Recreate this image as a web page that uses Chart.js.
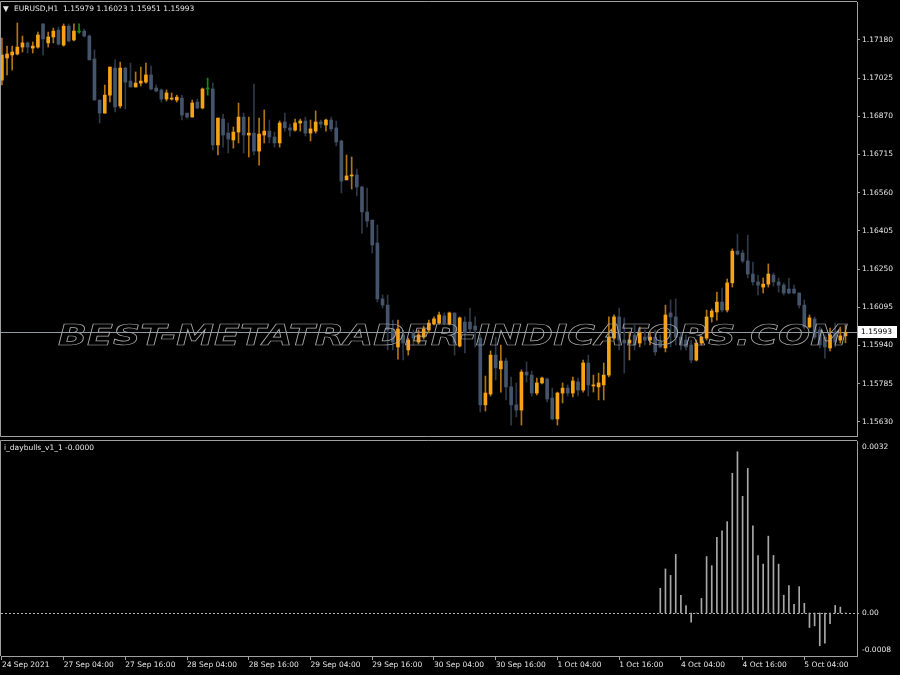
<!DOCTYPE html>
<html>
<head>
<meta charset="utf-8">
<title>EURUSD,H1</title>
<script src="https://cdn.jsdelivr.net/npm/chart.js@4.4.0/dist/chart.umd.min.js"></script>
<style>
    html, body { margin: 0; padding: 0; background: #000; }
    #wrap { position: relative; width: 900px; height: 675px; background: #000; overflow: hidden; }
    #priceChart { position: absolute; left: 0; top: 0; }
    #indChart { position: absolute; left: 0; top: 438px; }
</style>
</head>
<body>
<div id="wrap">
    <canvas id="priceChart" width="900" height="438"></canvas>
    <canvas id="indChart" width="900" height="237"></canvas>
</div>
<script>
var symbolTitle = 'EURUSD,H1';
var watermarkText = 'BEST-METATRADER-INDICATORS.COM';

// hourly bars, 24 Sep 16:00 .. 5 Oct 12:00
var opens = [
    1.17017, 1.17107, 1.17119, 1.17123, 1.17151, 1.17168, 1.17147, 1.17151, 1.17245, 1.17168,
    1.17192, 1.17220, 1.17159, 1.17236, 1.17180, 1.17212, 1.17216, 1.17196, 1.17103, 1.16936,
    1.16883, 1.16956, 1.17066, 1.16912, 1.17066, 1.17013, 1.16989, 1.17005, 1.17009, 1.17038,
    1.16985, 1.16977, 1.16940, 1.16940, 1.16936, 1.16944, 1.16883, 1.16867, 1.16928, 1.16904,
    1.16981, 1.16981, 1.16754, 1.16859, 1.16802, 1.16774, 1.16806, 1.16867, 1.16794, 1.16802,
    1.16729, 1.16794, 1.16810, 1.16786, 1.16762, 1.16847, 1.16823, 1.16814, 1.16843, 1.16851,
    1.16802, 1.16810, 1.16847, 1.16835, 1.16855, 1.16823, 1.16770, 1.16612, 1.16628, 1.16632,
    1.16583, 1.16482, 1.16449, 1.16356, 1.16129, 1.16104, 1.16007, 1.15934, 1.15983, 1.15922,
    1.15991, 1.15954, 1.15974, 1.16003, 1.16027, 1.16031, 1.16060, 1.16027, 1.16072, 1.15938,
    1.16035, 1.16035, 1.16019, 1.15970, 1.15699, 1.15743, 1.15901, 1.15845, 1.15877, 1.15772,
    1.15699, 1.15678, 1.15832, 1.15820, 1.15747, 1.15788, 1.15804, 1.15727, 1.15642, 1.15747,
    1.15767, 1.15747, 1.15792, 1.15759, 1.15869, 1.15776, 1.15772, 1.15780, 1.15820, 1.15970,
    1.16056, 1.15962, 1.15950, 1.15983, 1.15950, 1.15974, 1.15962, 1.15974, 1.15954, 1.15930,
    1.16072, 1.16056, 1.15974, 1.15962, 1.15942, 1.15881, 1.15950, 1.15970, 1.16056, 1.16076,
    1.16116, 1.16084, 1.16194, 1.16323, 1.16315, 1.16283, 1.16230, 1.16198, 1.16177, 1.16189,
    1.16226, 1.16198, 1.16185, 1.16169, 1.16169, 1.16153, 1.16104, 1.16015, 1.16048, 1.16003,
    1.15974, 1.15930, 1.15995, 1.15962, 1.15979
];
var highs = [
    1.17188, 1.17155, 1.17155, 1.17249, 1.17196, 1.17172, 1.17172, 1.17212, 1.17245, 1.17212,
    1.17228, 1.17232, 1.17245, 1.17245, 1.17245, 1.17245, 1.17224, 1.17200, 1.17139, 1.16936,
    1.16997, 1.17070, 1.17099, 1.17090, 1.17070, 1.17086, 1.17050, 1.17070, 1.17086, 1.17074,
    1.16997, 1.16981, 1.16977, 1.16965, 1.16956, 1.16956, 1.16883, 1.16936, 1.16940, 1.16985,
    1.17025, 1.17005, 1.16863, 1.16879, 1.16843, 1.16827, 1.16924, 1.16883, 1.16867, 1.17001,
    1.16863, 1.16896, 1.16855, 1.16806, 1.16851, 1.16883, 1.16839, 1.16859, 1.16859, 1.16867,
    1.16855, 1.16892, 1.16855, 1.16859, 1.16867, 1.16851, 1.16774, 1.16713, 1.16705, 1.16656,
    1.16587, 1.16579, 1.16449, 1.16429, 1.16145, 1.16145, 1.16043, 1.16043, 1.16003, 1.15970,
    1.16003, 1.16003, 1.16019, 1.16043, 1.16056, 1.16076, 1.16072, 1.16076, 1.16072, 1.16056,
    1.16056, 1.16092, 1.16056, 1.15983, 1.15816, 1.15918, 1.15974, 1.15942, 1.15889, 1.15812,
    1.15788, 1.15841, 1.15873, 1.15836, 1.15808, 1.15812, 1.15808, 1.15767, 1.15751, 1.15788,
    1.15780, 1.15812, 1.15808, 1.15881, 1.15901, 1.15820, 1.15828, 1.15869, 1.16056, 1.16064,
    1.16092, 1.16052, 1.15995, 1.16023, 1.16015, 1.16003, 1.15995, 1.16003, 1.15983, 1.16104,
    1.16125, 1.16129, 1.15991, 1.15983, 1.15962, 1.15962, 1.15979, 1.16084, 1.16088, 1.16157,
    1.16173, 1.16210, 1.16332, 1.16392, 1.16327, 1.16388, 1.16279, 1.16226, 1.16214, 1.16271,
    1.16234, 1.16214, 1.16194, 1.16214, 1.16185, 1.16153, 1.16125, 1.16064, 1.16056, 1.16015,
    1.15983, 1.16011, 1.16031, 1.16015, 1.16023
];
var lows = [
    1.16997, 1.17038, 1.17058, 1.17119, 1.17131, 1.17127, 1.17127, 1.17147, 1.17119, 1.17151,
    1.17168, 1.17159, 1.17155, 1.17172, 1.17176, 1.17208, 1.17192, 1.17099, 1.16936, 1.16843,
    1.16883, 1.16928, 1.16888, 1.16904, 1.16900, 1.16989, 1.16989, 1.16993, 1.17005, 1.16977,
    1.16969, 1.16928, 1.16932, 1.16936, 1.16928, 1.16855, 1.16863, 1.16867, 1.16900, 1.16900,
    1.16956, 1.16733, 1.16713, 1.16745, 1.16721, 1.16741, 1.16762, 1.16721, 1.16705, 1.16713,
    1.16672, 1.16762, 1.16762, 1.16745, 1.16745, 1.16810, 1.16790, 1.16810, 1.16810, 1.16790,
    1.16770, 1.16802, 1.16823, 1.16810, 1.16810, 1.16750, 1.16559, 1.16612, 1.16575, 1.16547,
    1.16396, 1.16421, 1.16315, 1.16116, 1.16092, 1.15922, 1.15922, 1.15885, 1.15881, 1.15901,
    1.15942, 1.15946, 1.15966, 1.15991, 1.16023, 1.16027, 1.16023, 1.16023, 1.15901, 1.15934,
    1.15910, 1.15995, 1.15934, 1.15670, 1.15674, 1.15735, 1.15800, 1.15751, 1.15719, 1.15617,
    1.15650, 1.15617, 1.15792, 1.15735, 1.15739, 1.15784, 1.15711, 1.15638, 1.15617, 1.15707,
    1.15735, 1.15731, 1.15735, 1.15751, 1.15735, 1.15751, 1.15719, 1.15719, 1.15812, 1.15962,
    1.15922, 1.15828, 1.15881, 1.15922, 1.15934, 1.15942, 1.15942, 1.15901, 1.15930, 1.15914,
    1.15934, 1.15942, 1.15922, 1.15922, 1.15869, 1.15877, 1.15942, 1.15962, 1.16035, 1.16043,
    1.16076, 1.16076, 1.16177, 1.16307, 1.16275, 1.16214, 1.16185, 1.16145, 1.16153, 1.16177,
    1.16181, 1.16157, 1.16145, 1.16149, 1.16149, 1.16092, 1.16007, 1.16011, 1.15966, 1.15930,
    1.15889, 1.15918, 1.15934, 1.15950, 1.15951
];
var closes = [
    1.17119, 1.17123, 1.17131, 1.17151, 1.17168, 1.17151, 1.17155, 1.17200, 1.17184, 1.17192,
    1.17216, 1.17163, 1.17236, 1.17176, 1.17216, 1.17212, 1.17196, 1.17099, 1.16936, 1.16883,
    1.16956, 1.17070, 1.16908, 1.17066, 1.17009, 1.16989, 1.17005, 1.17013, 1.17038, 1.16981,
    1.16973, 1.16940, 1.16965, 1.16944, 1.16948, 1.16875, 1.16867, 1.16924, 1.16904, 1.16981,
    1.16981, 1.16754, 1.16863, 1.16794, 1.16778, 1.16806, 1.16867, 1.16794, 1.16802, 1.16729,
    1.16798, 1.16810, 1.16786, 1.16762, 1.16843, 1.16823, 1.16814, 1.16843, 1.16851, 1.16802,
    1.16819, 1.16847, 1.16839, 1.16855, 1.16819, 1.16766, 1.16607, 1.16628, 1.16632, 1.16583,
    1.16482, 1.16445, 1.16348, 1.16129, 1.16104, 1.16003, 1.15954, 1.16007, 1.15950, 1.15962,
    1.15970, 1.15983, 1.16007, 1.16031, 1.16048, 1.16064, 1.16031, 1.16072, 1.15950, 1.16052,
    1.15991, 1.16007, 1.16003, 1.15699, 1.15747, 1.15901, 1.15849, 1.15877, 1.15772, 1.15699,
    1.15678, 1.15832, 1.15820, 1.15747, 1.15788, 1.15808, 1.15723, 1.15642, 1.15747, 1.15767,
    1.15747, 1.15796, 1.15759, 1.15869, 1.15780, 1.15780, 1.15788, 1.15820, 1.15974, 1.16056,
    1.15962, 1.15950, 1.15962, 1.15942, 1.15991, 1.15962, 1.15974, 1.15914, 1.15934, 1.16064,
    1.16056, 1.15974, 1.15946, 1.15934, 1.15881, 1.15950, 1.15974, 1.16056, 1.16080, 1.16116,
    1.16084, 1.16194, 1.16323, 1.16311, 1.16283, 1.16230, 1.16198, 1.16185, 1.16189, 1.16230,
    1.16198, 1.16185, 1.16153, 1.16153, 1.16153, 1.16104, 1.16015, 1.16052, 1.15974, 1.15942,
    1.15934, 1.15983, 1.15954, 1.15979, 1.15993
];

var priceTicks = [1.15630, 1.15785, 1.15940, 1.16095, 1.16250, 1.16405, 1.16560, 1.16715, 1.16870, 1.17025, 1.17180];

var dateTickBars = [0, 12, 24, 36, 48, 60, 72, 84, 96, 108, 120, 132, 144, 156];
var dateLabels = ['24 Sep 2021', '27 Sep 04:00', '27 Sep 16:00', '28 Sep 04:00', '28 Sep 16:00',
    '29 Sep 04:00', '29 Sep 16:00', '30 Sep 04:00', '30 Sep 16:00', '1 Oct 04:00',
    '1 Oct 16:00', '4 Oct 04:00', '4 Oct 16:00', '5 Oct 04:00'];

// indicator pane: values start at bar 128
var indicatorName = 'i_daybulls_v1_1';
var indicatorValueText = '-0.0000';
var histStart = 128;
var histValues = [
    0.00046, 0.00082, 0.00070, 0.00109, 0.00033, 0.00014, -0.00017, 0, 0.00027, 0.00105,
    0.00088, 0.00141, 0.00153, 0.00170, 0.00260, 0.00300, 0.00217, 0.00269, 0.00162, 0.00107,
    0.00091, 0.00143, 0.00107, 0.00091, 0.00033, 0.00051, 0.00016, 0.00049, 0.00018, -0.00027,
    -0.00024, -0.00061, -0.00056, -0.00020, 0.00014, 0.00011, 0
];
var indicatorTicks = [0.0032, 0, -0.0008];

var bullBody = '#f7a315';
var bullWick = '#b17413';
var bearBody = '#44546a';
var bearWick = '#2e3a49';
var dojiColor = '#0c8f0c';
var frameColor = '#a0a0a0';
var textColor = '#e6e6e6';
var fontFamily = '"DejaVu Sans", sans-serif';

Chart.defaults.font.family = fontFamily;
Chart.defaults.font.size = 7.5;
Chart.defaults.color = textColor;

var xMin = -0.175, xMax = 166.24;

function candleKind(i) {
    if (closes[i] > opens[i]) return 'bull';
    if (closes[i] < opens[i]) return 'bear';
    return 'doji';
}
function bodyColor(ctx) {
    var k = candleKind(ctx.dataIndex);
    return k == 'bull' ? bullBody : (k == 'bear' ? bearBody : dojiColor);
}
function wickColor(ctx) {
    var k = candleKind(ctx.dataIndex);
    return k == 'bull' ? bullWick : (k == 'bear' ? bearWick : dojiColor);
}
// no auto padding around the plot, MT4 panes run edge to edge
function noScalePadding(s) {
    s.paddingTop = 0;
    s.paddingBottom = 0;
    s.paddingLeft = 0;
    s.paddingRight = 0;
}

var bodyData = opens.map(function (o, i) { return { x: i, y: [opens[i], closes[i]] }; });
var wickData = opens.map(function (o, i) { return { x: i, y: [lows[i], highs[i]] }; });
var histData = histValues.map(function (v, k) { return { x: histStart + k, y: v }; });

var last = closes.length - 1;

var pricePanePlugin = {
    id: 'pricePane',
    beforeDatasetsDraw: function (chart) {
        var ctx = chart.ctx, a = chart.chartArea;
        var y = Math.round(chart.scales.y.getPixelForValue(closes[last])) + 0.5;
        ctx.save();
        ctx.strokeStyle = '#8f98a3';
        ctx.lineWidth = 1;
        ctx.beginPath();
        ctx.moveTo(a.left, y);
        ctx.lineTo(a.right, y);
        ctx.stroke();
        ctx.restore();
    },
    afterDatasetsDraw: function (chart) {
        var ctx = chart.ctx;
        // outlined watermark
        ctx.save();
        ctx.font = 'italic bold 29px ' + fontFamily;
        var w = ctx.measureText(watermarkText).width;
        ctx.translate(58, 345);
        ctx.scale(790 / w, 1);
        ctx.strokeStyle = '#a9a9a9';
        ctx.lineWidth = 0.7;
        ctx.strokeText(watermarkText, 0, 0);
        ctx.restore();
    },
    afterDraw: function (chart) {
        var ctx = chart.ctx, a = chart.chartArea;
        ctx.save();
        ctx.strokeStyle = frameColor;
        ctx.lineWidth = 1;
        ctx.beginPath();
        ctx.moveTo(0.5, a.bottom + 0.5);
        ctx.lineTo(0.5, a.top - 0.5);
        ctx.lineTo(a.right, a.top - 0.5);
        ctx.moveTo(0.5, a.bottom + 0.5);
        ctx.lineTo(a.right, a.bottom + 0.5);
        ctx.stroke();

        // title line
        ctx.fillStyle = textColor;
        ctx.font = '7.5px ' + fontFamily;
        ctx.textBaseline = 'middle';
        ctx.fillText('\u25BC', 3, 9);
        var title = symbolTitle + '  ' + opens[last].toFixed(5) + ' ' + highs[last].toFixed(5) + ' ' +
            lows[last].toFixed(5) + ' ' + closes[last].toFixed(5);
        ctx.fillText(title, 14, 9);

        // current price label
        var y = Math.round(chart.scales.y.getPixelForValue(closes[last]));
        ctx.fillStyle = '#ffffff';
        ctx.fillRect(a.right + 1, y - 6, 39, 12);
        ctx.fillStyle = '#000000';
        ctx.fillText(closes[last].toFixed(5), a.right + 4, y + 0.5);
        ctx.restore();
    }
};

new Chart(document.getElementById('priceChart'), {
    type: 'bar',
    data: {
        datasets: [{
            data: bodyData,
            backgroundColor: bodyColor,
            barThickness: 3,
            minBarLength: 1,
            grouped: false,
            borderWidth: 0
        }, {
            data: wickData,
            backgroundColor: wickColor,
            barThickness: 1,
            grouped: false,
            borderWidth: 0
        }]
    },
    options: {
        responsive: false,
        devicePixelRatio: 1,
        animation: false,
        layout: { padding: { left: 1, top: 2, right: 0, bottom: 2 } },
        plugins: { legend: { display: false }, tooltip: { enabled: false } },
        scales: {
            x: { type: 'linear', offset: false, min: xMin, max: xMax, display: false },
            y: {
                position: 'right',
                min: 1.155727,
                max: 1.17334,
                afterBuildTicks: function (s) {
                    s.ticks = priceTicks.map(function (v) { return { value: v }; });
                },
                afterFit: function (s) { s.width = 43; noScalePadding(s); },
                grid: { drawOnChartArea: false, drawTicks: true, tickLength: 3, color: frameColor },
                border: { display: true, color: frameColor },
                ticks: {
                    color: textColor,
                    padding: 2,
                    autoSkip: false,
                    callback: function (v) { return Number(v).toFixed(5); }
                }
            }
        }
    },
    plugins: [pricePanePlugin]
});

var indicatorPanePlugin = {
    id: 'indicatorPane',
    beforeDatasetsDraw: function (chart) {
        var ctx = chart.ctx, a = chart.chartArea;
        var y0 = Math.round(chart.scales.y.getPixelForValue(0)) + 0.5;
        ctx.save();
        ctx.strokeStyle = '#b4b4b4';
        ctx.lineWidth = 1;
        ctx.setLineDash([2, 2]);
        ctx.beginPath();
        ctx.moveTo(a.left, y0);
        ctx.lineTo(a.right + 4, y0);
        ctx.stroke();
        ctx.restore();
    },
    afterDraw: function (chart) {
        var ctx = chart.ctx, a = chart.chartArea, s = chart.scales.y;
        ctx.save();
        ctx.strokeStyle = frameColor;
        ctx.lineWidth = 1;
        ctx.beginPath();
        ctx.moveTo(0.5, a.bottom);
        ctx.lineTo(0.5, a.top - 0.5);
        ctx.lineTo(a.right, a.top - 0.5);
        ctx.stroke();

        ctx.fillStyle = textColor;
        ctx.font = '7.5px ' + fontFamily;
        ctx.textBaseline = 'middle';
        ctx.fillText(indicatorName + ' ' + indicatorValueText, 4, a.top + 7);

        indicatorTicks.forEach(function (v) {
            var y = s.getPixelForValue(v);
            y = Math.min(Math.max(y, a.top + 6), a.bottom - 6);
            var txt = v == 0 ? '0.00' : v.toFixed(4);
            ctx.fillText(txt, a.right + 5, y);
        });
        ctx.restore();
    }
};

new Chart(document.getElementById('indChart'), {
    type: 'bar',
    data: {
        datasets: [{
            data: histData,
            backgroundColor: '#a8a8a8',
            barThickness: 1,
            grouped: false,
            borderWidth: 0
        }]
    },
    options: {
        responsive: false,
        devicePixelRatio: 1,
        animation: false,
        layout: { padding: { left: 1, top: 3, right: 0, bottom: 0 } },
        plugins: { legend: { display: false }, tooltip: { enabled: false } },
        scales: {
            x: {
                type: 'linear',
                offset: false,
                min: xMin,
                max: xMax,
                afterBuildTicks: function (s) {
                    s.ticks = dateTickBars.map(function (v) { return { value: v }; });
                },
                afterFit: function (s) { s.height = 19; noScalePadding(s); },
                grid: { drawOnChartArea: false, drawTicks: true, tickLength: 4, color: frameColor, offset: false },
                border: { display: true, color: frameColor },
                ticks: {
                    align: 'start',
                    maxRotation: 0,
                    autoSkip: false,
                    padding: 1,
                    color: textColor,
                    callback: function (v, i) { return dateLabels[i]; }
                }
            },
            y: {
                position: 'right',
                min: -0.0008,
                max: 0.0032,
                afterFit: function (s) { s.width = 43; noScalePadding(s); },
                grid: { display: false },
                border: { display: true, color: frameColor },
                ticks: { display: false }
            }
        }
    },
    plugins: [indicatorPanePlugin]
});
</script>
</body>
</html>
